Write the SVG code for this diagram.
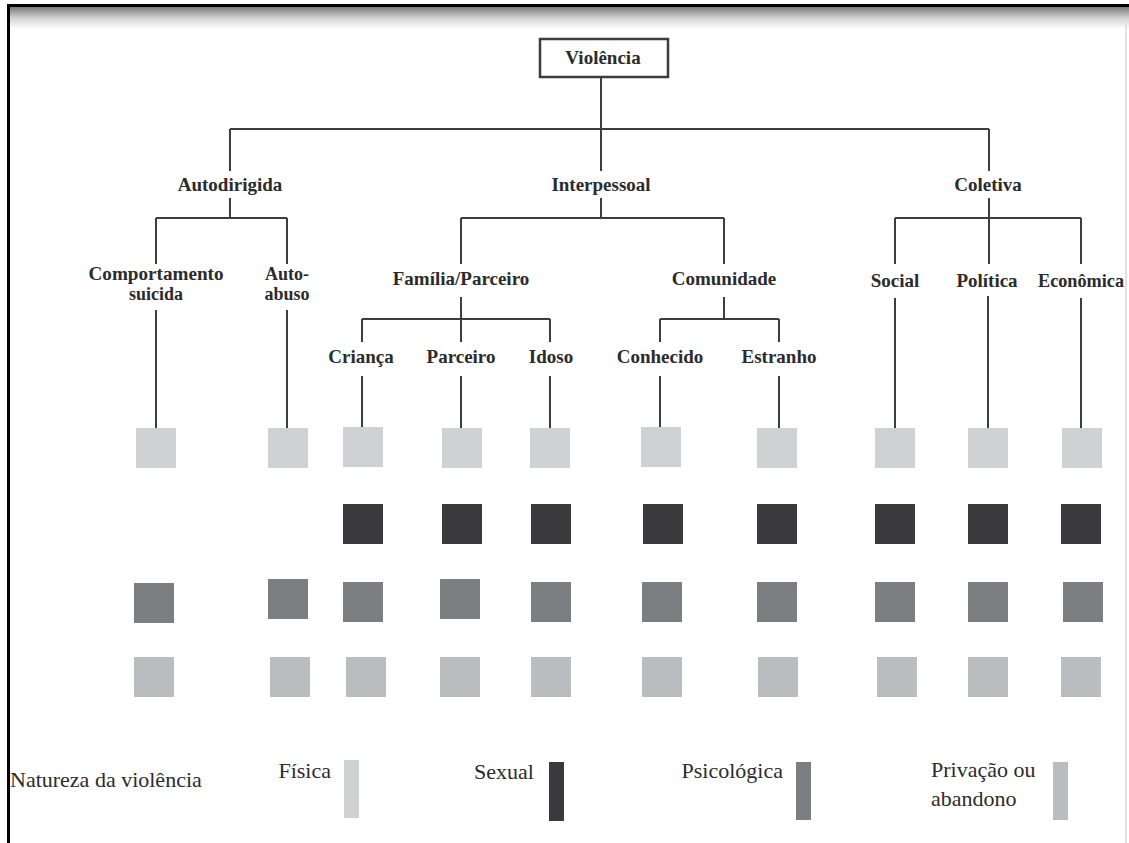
<svg xmlns="http://www.w3.org/2000/svg" width="1129" height="843" viewBox="0 0 1129 843">
<style>
.lbl{font-family:"Liberation Serif","Times New Roman",serif;font-weight:bold;font-size:19px;fill:#2b2b2b;text-anchor:middle}
.sm{font-size:18px}
.leg{font-family:"Liberation Serif","Times New Roman",serif;font-size:22px;fill:#2b2b2b}
.c{stroke:#3d3d3d;stroke-width:2;fill:none}
.f{fill:#d0d1d3}
.s{fill:#3a3a3d}
.p{fill:#7c7e81}
.a{fill:#bbbcbf}
</style>
<defs>
<linearGradient id="shade" x1="0" y1="0" x2="0" y2="1">
<stop offset="0" stop-color="#7a7a7a"/>
<stop offset="0.5" stop-color="#d2d2d2"/>
<stop offset="1" stop-color="#ffffff"/>
</linearGradient>
</defs>
<rect x="0" y="0" width="1129" height="843" fill="#ffffff"/>
<g id="frame">
<rect x="7" y="7" width="1122" height="22" fill="url(#shade)"/>
<rect x="7" y="4" width="1122" height="3" fill="#000"/>
<rect x="7" y="4" width="3" height="839" fill="#000"/>
<rect x="1125" y="20" width="2" height="823" fill="#e2e2e2"/>
</g>
<g id="connectors" class="c">
<path d="M601 77V129M230 129H989M230 129V171M601 129V171M989 129V171"/>
<path d="M230 198V218M156 218H287M156 218V264M287 218V264"/>
<path d="M601 198V218M461 218H724M461 218V264M724 218V264"/>
<path d="M989 198V218M895 218H1081M895 218V264M989 218V264M1081 218V264"/>
<path d="M156 310V428M287 310V428"/>
<path d="M461 297V319M362 319H550M362 319V342M461 319V342M550 319V342"/>
<path d="M724 297V319M660 319H779M660 319V342M779 319V342"/>
<path d="M362 376V427M461 376V428M550 376V428M660 376V427M779 376V428"/>
<path d="M895 298V428M988 296V428M1081 298V428"/>
</g>
<g id="violencia">
<rect x="540" y="39" width="128" height="38" fill="#fff" stroke="#3d3d3d" stroke-width="2.5"/>
<text class="lbl" x="603" y="64">Violência</text>
</g>
<g id="autodirigida"><text class="lbl" x="230" y="191">Autodirigida</text></g>
<g id="interpessoal"><text class="lbl" x="601" y="191">Interpessoal</text></g>
<g id="coletiva"><text class="lbl" x="988" y="191">Coletiva</text></g>
<g id="comportamento"><text class="lbl sm" x="156" y="280" textLength="135" lengthAdjust="spacingAndGlyphs">Comportamento</text><text class="lbl sm" x="156" y="300">suicida</text></g>
<g id="autoabuso"><text class="lbl sm" x="287" y="280">Auto-</text><text class="lbl sm" x="287" y="300">abuso</text></g>
<g id="familia"><text class="lbl" x="461" y="285">Família/Parceiro</text></g>
<g id="comunidade"><text class="lbl" x="724" y="285">Comunidade</text></g>
<g id="social"><text class="lbl" x="895" y="287">Social</text></g>
<g id="politica"><text class="lbl" x="987" y="287">Política</text></g>
<g id="economica"><text class="lbl" x="1081" y="287" textLength="86" lengthAdjust="spacingAndGlyphs">Econômica</text></g>
<g id="crianca"><text class="lbl" x="361" y="363">Criança</text></g>
<g id="parceiro"><text class="lbl" x="461" y="363">Parceiro</text></g>
<g id="idoso"><text class="lbl" x="551" y="363">Idoso</text></g>
<g id="conhecido"><text class="lbl" x="660" y="363">Conhecido</text></g>
<g id="estranho"><text class="lbl" x="779" y="363">Estranho</text></g>
<g id="matrix">
<rect class="f" x="136" y="428" width="40" height="40"/>
<rect class="f" x="268" y="428" width="40" height="40"/>
<rect class="f" x="343" y="427" width="40" height="40"/>
<rect class="f" x="442" y="428" width="40" height="40"/>
<rect class="f" x="530" y="428" width="40" height="40"/>
<rect class="f" x="641" y="427" width="40" height="40"/>
<rect class="f" x="757" y="428" width="40" height="40"/>
<rect class="f" x="875" y="428" width="40" height="40"/>
<rect class="f" x="968" y="428" width="40" height="40"/>
<rect class="f" x="1062" y="428" width="40" height="40"/>
<rect class="s" x="343" y="504" width="40" height="40"/>
<rect class="s" x="442" y="504" width="40" height="40"/>
<rect class="s" x="531" y="504" width="40" height="40"/>
<rect class="s" x="643" y="504" width="40" height="40"/>
<rect class="s" x="757" y="504" width="40" height="40"/>
<rect class="s" x="875" y="504" width="40" height="40"/>
<rect class="s" x="968" y="504" width="40" height="40"/>
<rect class="s" x="1061" y="504" width="40" height="40"/>
<rect class="p" x="134" y="583" width="40" height="40"/>
<rect class="p" x="268" y="579" width="40" height="40"/>
<rect class="p" x="343" y="582" width="40" height="40"/>
<rect class="p" x="440" y="579" width="40" height="40"/>
<rect class="p" x="531" y="582" width="40" height="40"/>
<rect class="p" x="642" y="582" width="40" height="40"/>
<rect class="p" x="757" y="582" width="40" height="40"/>
<rect class="p" x="875" y="582" width="40" height="40"/>
<rect class="p" x="968" y="582" width="40" height="40"/>
<rect class="p" x="1063" y="582" width="40" height="40"/>
<rect class="a" x="134" y="657" width="40" height="40"/>
<rect class="a" x="270" y="657" width="40" height="40"/>
<rect class="a" x="346" y="657" width="40" height="40"/>
<rect class="a" x="440" y="657" width="40" height="40"/>
<rect class="a" x="531" y="657" width="40" height="40"/>
<rect class="a" x="642" y="657" width="40" height="40"/>
<rect class="a" x="758" y="657" width="40" height="40"/>
<rect class="a" x="877" y="657" width="40" height="40"/>
<rect class="a" x="968" y="657" width="40" height="40"/>
<rect class="a" x="1061" y="657" width="40" height="40"/>
</g>
<g id="legend">
<text class="leg" x="10" y="787">Natureza da violência</text>
<text class="leg" x="331" y="778" text-anchor="end">Física</text>
<rect class="f" x="344" y="760" width="15" height="58"/>
<text class="leg" x="534" y="779" text-anchor="end">Sexual</text>
<rect class="s" x="549" y="762" width="15" height="59"/>
<text class="leg" x="783" y="778" text-anchor="end">Psicológica</text>
<rect class="p" x="796" y="762" width="15" height="58"/>
<text class="leg" x="931" y="777">Privação ou</text>
<text class="leg" x="931" y="806">abandono</text>
<rect class="a" x="1053" y="762" width="15" height="58"/>
</g>
</svg>
